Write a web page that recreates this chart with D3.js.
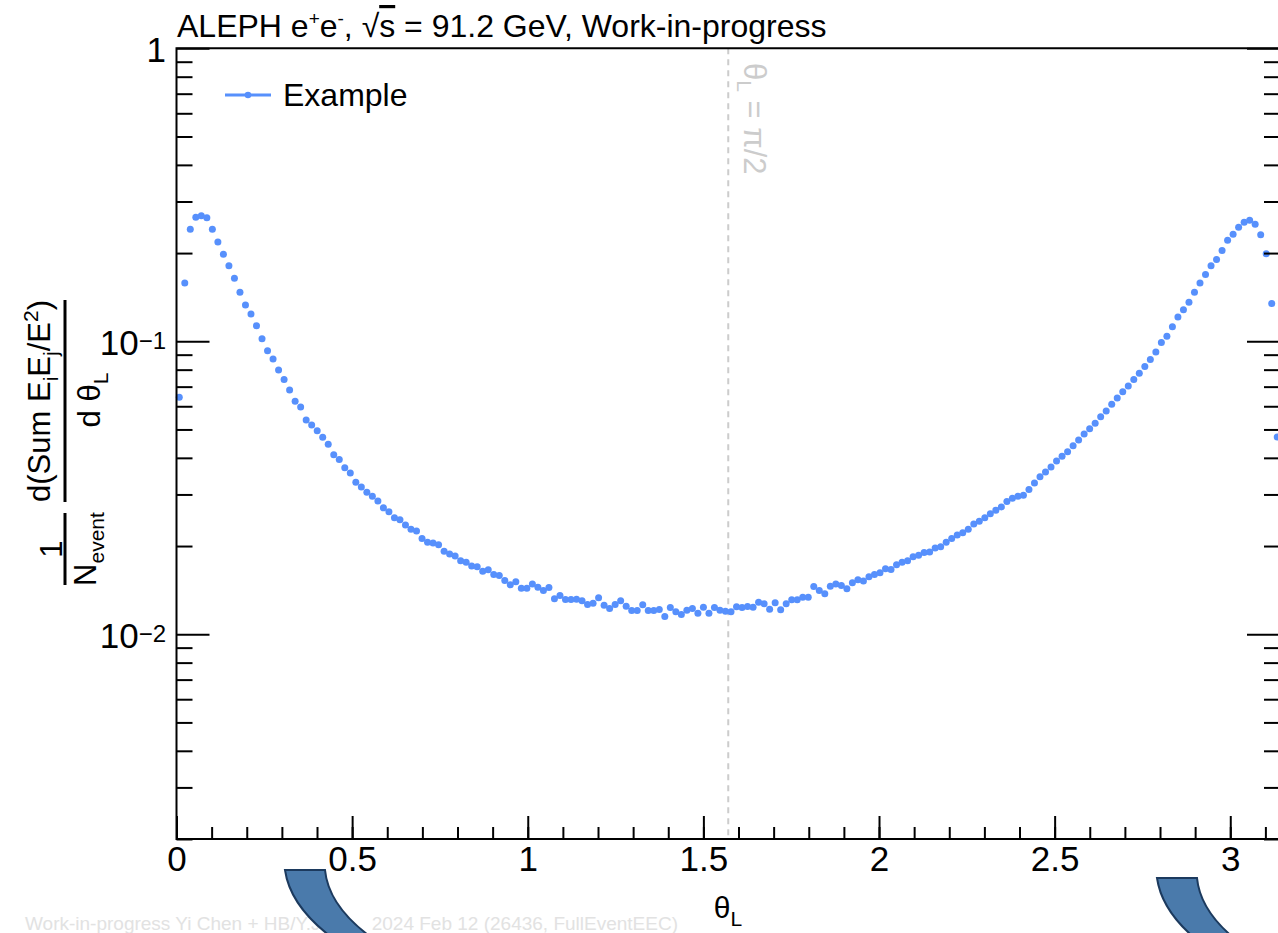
<!DOCTYPE html>
<html>
<head>
<meta charset="utf-8">
<title>EEC theta_L</title>
<script src="https://d3js.org/d3.v7.min.js"></script>
<style>
  body { margin: 0; background: white; }
  svg text { font-family: "Liberation Sans", Arial, Helvetica, sans-serif; }
</style>
</head>
<body>
<script>
// ---- data ----
var nBins = 200;           // bins from 0 to pi
var thetaMax = Math.PI;
var seriesName = "Example";
var values = [
  0.0644, 0.158, 0.241, 0.265, 0.268, 0.264, 0.241, 0.218, 0.198, 0.181,
  0.164, 0.147, 0.133, 0.124, 0.113, 0.102, 0.0929, 0.0870, 0.0798, 0.0740,
  0.0682, 0.0624, 0.0597, 0.0539, 0.0518, 0.0495, 0.0470, 0.0445, 0.0410, 0.0395,
  0.0370, 0.0355, 0.0330, 0.0318, 0.0305, 0.0296, 0.0285, 0.0270, 0.0262, 0.0250,
  0.0246, 0.0236, 0.0228, 0.0225, 0.0212, 0.0206, 0.0205, 0.0202, 0.0192, 0.0188,
  0.0185, 0.0178, 0.0176, 0.0171, 0.0170, 0.0164, 0.0166, 0.0160,
  0.01587, 0.01526, 0.01475, 0.01510, 0.01436, 0.01436, 0.01483, 0.01447, 0.01410, 0.01444,
  0.01321, 0.01356, 0.01314, 0.01314, 0.01317, 0.01300, 0.01263, 0.01276, 0.01331, 0.01257,
  0.01224, 0.01263, 0.01300, 0.01247, 0.01205, 0.01205, 0.01260, 0.01205, 0.01205, 0.01215,
  0.01149, 0.01234, 0.01193, 0.01168, 0.01208, 0.01224, 0.01180, 0.01237, 0.01180, 0.01234,
  0.01208, 0.01199, 0.01193, 0.01240, 0.01234, 0.01243, 0.01237, 0.01286, 0.01270, 0.01218,
  0.01280, 0.01212, 0.01270, 0.01311, 0.01311, 0.01338, 0.01338, 0.01455, 0.01410, 0.01374,
  0.01459, 0.01483, 0.01467, 0.01429, 0.01498, 0.01534, 0.01518, 0.01571, 0.01600, 0.01621,
  0.01673, 0.01664, 0.01726,
  0.0176, 0.0178, 0.0184, 0.0186, 0.0190, 0.0191, 0.0197, 0.0199, 0.0206, 0.0212,
  0.0218, 0.0222, 0.0228, 0.0238, 0.0243, 0.0250, 0.0258, 0.0265, 0.0272, 0.0284,
  0.0291, 0.0296, 0.0298, 0.0312, 0.0328, 0.0345, 0.0358, 0.0372, 0.0390, 0.0405,
  0.0420, 0.0440, 0.0460, 0.0482, 0.0503, 0.0525, 0.0552, 0.0578, 0.0610, 0.0640,
  0.0672, 0.0703, 0.0740, 0.0778, 0.0820,
  0.0866, 0.0919, 0.099, 0.104, 0.112, 0.121, 0.128, 0.136, 0.147, 0.158,
  0.169, 0.181, 0.190, 0.204, 0.221, 0.232, 0.245, 0.255, 0.259, 0.251,
  0.231, 0.199, 0.1345, 0.0471
];

var xTicks = [0, 0.5, 1, 1.5, 2, 2.5, 3];
var xTickLabels = ["0", "0.5", "1", "1.5", "2", "2.5", "3"];
var yTicks = [1, 0.1, 0.01];
var yTickBase = ["1", "10", "10"];
var yTickExp = ["", "\u22121", "\u22122"];
var yDomain = [0.002, 1];

// ---- layout ----
var W = 1278, H = 933;
var plot = {left: 176.5, right: 1280, top: 48.3, bottom: 839};
var color = "#5790fc";

var svg = d3.select("body").append("svg")
    .attr("width", W)
    .attr("height", H);

var x = d3.scaleLinear().domain([0, thetaMax]).range([plot.left, plot.right]);
var y = d3.scaleLog().domain(yDomain).range([plot.bottom, plot.top]);

var points = values.map(function(v, i){ return {t: (i + 0.5) * thetaMax / nBins, v: v}; });

// minor tick positions
var xMinor = d3.range(0, 32).map(function(k){ return k / 10; }).filter(function(d){ return d <= thetaMax; });
var yMinor = [];
[-3, -2, -1].forEach(function(e){
  for (var m = 2; m <= 9; m++) {
    var val = m * Math.pow(10, e);
    if (val >= yDomain[0] && val < yDomain[1]) yMinor.push(val);
  }
});

// vertical dashed line at pi/2
svg.append("line")
   .attr("x1", x(Math.PI / 2)).attr("x2", x(Math.PI / 2))
   .attr("y1", plot.top).attr("y2", plot.bottom)
   .attr("stroke", "#cccccc")
   .attr("stroke-width", 2)
   .attr("stroke-dasharray", "6,5");

var lbl = svg.append("text")
   .attr("transform", "translate(744,63) rotate(90)")
   .attr("fill", "#cccccc")
   .attr("font-size", 31);
lbl.append("tspan").text("\u03b8");
lbl.append("tspan").attr("font-size", 21).attr("dy", 7).text("L");
lbl.append("tspan").attr("dy", -7).text(" = \u03c0/2");

// data points
svg.append("g")
   .selectAll("circle")
   .data(points)
   .enter()
   .append("circle")
   .attr("cx", function(d){ return x(d.t); })
   .attr("cy", function(d){ return y(d.v); })
   .attr("r", 3.5)
   .attr("fill", color);

// axes
function styleAxis(g){
  g.select(".domain").remove();
  g.selectAll("line").attr("stroke", "#000").attr("stroke-width", 2);
  g.selectAll("text").attr("font-size", 35).attr("fill", "#000")
   .attr("font-family", "Liberation Sans, Arial, sans-serif");
}

svg.append("g")
   .attr("transform", "translate(0," + plot.bottom + ")")
   .call(d3.axisBottom(x).tickValues(xMinor).tickSizeInner(-12).tickSizeOuter(0).tickFormat(""))
   .call(styleAxis);

svg.append("g")
   .attr("transform", "translate(0," + plot.bottom + ")")
   .call(d3.axisBottom(x).tickValues(xTicks).tickSizeInner(-23).tickSizeOuter(0).tickPadding(7)
         .tickFormat(function(d, i){ return xTickLabels[i]; }))
   .call(styleAxis);

[[plot.left, d3.axisLeft], [plot.right, d3.axisRight]].forEach(function(a){
  svg.append("g")
     .attr("transform", "translate(" + a[0] + ",0)")
     .call(a[1](y).tickValues(yMinor).tickSizeInner(-16).tickSizeOuter(0).tickFormat(""))
     .call(styleAxis);
  svg.append("g")
     .attr("transform", "translate(" + a[0] + ",0)")
     .call(a[1](y).tickValues(yTicks).tickSizeInner(-33).tickSizeOuter(0).tickFormat(""))
     .call(styleAxis);
});

// y tick labels with exponents
yTicks.forEach(function(v, i){
  var t = svg.append("text")
     .attr("x", 166)
     .attr("y", y(v) + 14)
     .attr("text-anchor", "end")
     .attr("font-size", 35);
  t.append("tspan").text(yTickBase[i]);
  if (yTickExp[i]) t.append("tspan").attr("font-size", 24).attr("dy", -6).text(yTickExp[i]);
});

// frame
svg.append("path")
   .attr("d", "M" + W + "," + plot.top + "H" + plot.left + "V" + plot.bottom + "H" + W)
   .attr("fill", "none")
   .attr("stroke", "#000")
   .attr("stroke-width", 2);

// legend
svg.append("line")
   .attr("x1", 225).attr("x2", 271).attr("y1", 95).attr("y2", 95)
   .attr("stroke", color).attr("stroke-width", 3);
svg.append("circle").attr("cx", 248).attr("cy", 95).attr("r", 3.3).attr("fill", color);
svg.append("text").attr("x", 283).attr("y", 106).attr("font-size", 32).text(seriesName);

// title
var title = svg.append("text").attr("x", 177).attr("y", 37).attr("font-size", 32);
title.append("tspan").text("ALEPH e");
title.append("tspan").attr("font-size", 19).attr("dy", -12).text("+");
title.append("tspan").attr("dy", 12).text("e");
title.append("tspan").attr("font-size", 19).attr("dy", -12).text("-");
title.append("tspan").attr("dy", 12).text(", \u221a");
title.append("tspan").attr("text-decoration", "overline").text("s");
title.append("tspan").text(" = 91.2 GeV, Work-in-progress");

// x axis title
var xt = svg.append("text").attr("x", 728).attr("y", 918).attr("text-anchor", "middle").attr("font-size", 30);
xt.append("tspan").text("\u03b8");
xt.append("tspan").attr("font-size", 21).attr("dy", 8).text("L");

// y axis title (rotated fraction)
var yl = svg.append("g").attr("transform", "rotate(-90)");
yl.append("line").attr("x1", -585).attr("x2", -513).attr("y1", 65).attr("y2", 65)
  .attr("stroke", "#000").attr("stroke-width", 3);
yl.append("line").attr("x1", -502).attr("x2", -300).attr("y1", 65).attr("y2", 65)
  .attr("stroke", "#000").attr("stroke-width", 3);
yl.append("text").attr("x", -549).attr("y", 62).attr("text-anchor", "middle").attr("font-size", 31).text("1");
var ne = yl.append("text").attr("x", -549).attr("y", 96).attr("text-anchor", "middle").attr("font-size", 31);
ne.append("tspan").text("N");
ne.append("tspan").attr("font-size", 21).attr("dy", 8).text("event");
var num = yl.append("text").attr("x", -401).attr("y", 50).attr("text-anchor", "middle").attr("font-size", 31);
num.append("tspan").text("d(Sum E");
num.append("tspan").attr("font-size", 21).attr("dy", 8).text("i");
num.append("tspan").attr("dy", -8).text("E");
num.append("tspan").attr("font-size", 21).attr("dy", 8).text("j");
num.append("tspan").attr("dy", -8).text("/E");
num.append("tspan").attr("font-size", 21).attr("dy", -12).text("2");
num.append("tspan").attr("dy", 12).text(")");
var den = yl.append("text").attr("x", -400).attr("y", 100).attr("text-anchor", "middle").attr("font-size", 31);
den.append("tspan").text("d \u03b8");
den.append("tspan").attr("font-size", 21).attr("dy", 8).text("L");

// watermark
svg.append("text").attr("x", 25).attr("y", 930).attr("font-size", 19).attr("fill", "#e2e2e2")
   .text("Work-in-progress Yi Chen + HB/Y.J.L /");
svg.append("text").attr("x", 678).attr("y", 930).attr("text-anchor", "end").attr("font-size", 19).attr("fill", "#e2e2e2")
   .text("2024 Feb 12 (26436, FullEventEEC)");

// curved blue shapes at the bottom
function bandPath(x0, y0){
  return "M" + x0 + "," + y0 +
         " L" + (x0 + 40) + "," + y0 +
         " Q" + (x0 + 44) + "," + (y0 + 42) + " " + (x0 + 102) + "," + (y0 + 78) +
         " L" + (x0 + 62) + "," + (y0 + 78) +
         " Q" + (x0 + 6) + "," + (y0 + 42) + " " + x0 + "," + y0 + " Z";
}
svg.append("path").attr("d", bandPath(285, 870))
   .attr("fill", "#4a7aab").attr("stroke", "#1c3a5e").attr("stroke-width", 2);
svg.append("path").attr("d", bandPath(1157, 878))
   .attr("fill", "#4a7aab").attr("stroke", "#1c3a5e").attr("stroke-width", 2);
</script>
</body>
</html>
